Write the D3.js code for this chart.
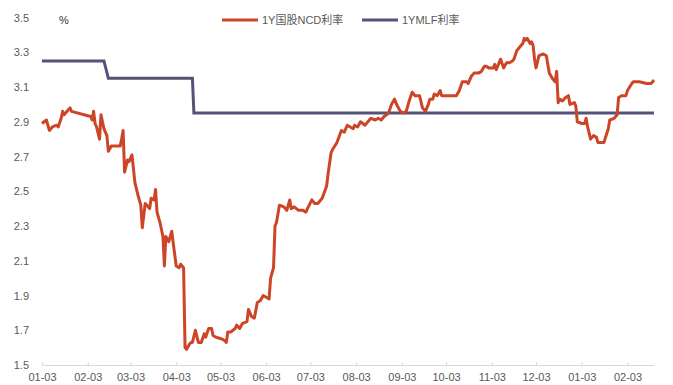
<!DOCTYPE html>
<html>
<head>
<meta charset="utf-8">
<script src="https://cdn.jsdelivr.net/npm/d3@7/dist/d3.min.js"></script>
<style>
  html, body { margin: 0; padding: 0; background: #fff; }
  svg { display: block; }
  text { font-family: "Liberation Sans", Arial, "Noto Sans CJK SC", sans-serif; }
</style>
</head>
<body>
<svg id="chart" width="673" height="385"></svg>
<script>
// 1Y state-owned bank NCD rate (daily)
const ncdDates = [
  "2020-01-03","2020-01-06","2020-01-08","2020-01-10","2020-01-13","2020-01-14","2020-01-16","2020-01-17","2020-01-18","2020-01-20",
  "2020-01-22","2020-01-23","2020-02-05","2020-02-06","2020-02-07","2020-02-08","2020-02-09","2020-02-11","2020-02-12","2020-02-13",
  "2020-02-14","2020-02-16","2020-02-17","2020-02-19","2020-02-22","2020-02-25","2020-02-26","2020-02-27","2020-02-28","2020-03-01",
  "2020-03-02","2020-03-04","2020-03-06","2020-03-08","2020-03-10","2020-03-11","2020-03-13","2020-03-15","2020-03-16","2020-03-17",
  "2020-03-19","2020-03-20","2020-03-21","2020-03-23","2020-03-25","2020-03-26","2020-03-27","2020-03-29","2020-03-31","2020-04-01",
  "2020-04-03","2020-04-05","2020-04-06","2020-04-08","2020-04-09","2020-04-10","2020-04-12","2020-04-13","2020-04-14","2020-04-16",
  "2020-04-18","2020-04-20","2020-04-22","2020-04-23","2020-04-25","2020-04-27","2020-04-28","2020-04-30","2020-05-04","2020-05-06",
  "2020-05-07","2020-05-08","2020-05-10","2020-05-13","2020-05-14","2020-05-16","2020-05-18","2020-05-21","2020-05-22","2020-05-24",
  "2020-05-26","2020-05-28","2020-05-30","2020-06-01","2020-06-03","2020-06-05","2020-06-06","2020-06-07","2020-06-08","2020-06-09",
  "2020-06-10","2020-06-12","2020-06-15","2020-06-17","2020-06-19","2020-06-20","2020-06-22","2020-06-25","2020-06-28","2020-06-30",
  "2020-07-01","2020-07-04","2020-07-06","2020-07-08","2020-07-11","2020-07-14","2020-07-15","2020-07-17","2020-07-18","2020-07-21",
  "2020-07-24","2020-07-26","2020-07-28","2020-07-30","2020-08-01","2020-08-02","2020-08-04","2020-08-06","2020-08-09","2020-08-11",
  "2020-08-13","2020-08-16","2020-08-18","2020-08-20","2020-08-22","2020-08-25","2020-08-27","2020-08-29","2020-08-31","2020-09-02",
  "2020-09-04","2020-09-06","2020-09-08","2020-09-10","2020-09-12","2020-09-15","2020-09-17","2020-09-19","2020-09-21","2020-09-22",
  "2020-09-24","2020-09-25","2020-09-27","2020-09-29","2020-09-30","2020-10-10","2020-10-12","2020-10-14","2020-10-17","2020-10-18",
  "2020-10-20","2020-10-22","2020-10-25","2020-10-27","2020-10-29","2020-10-30","2020-11-01","2020-11-04","2020-11-05","2020-11-06",
  "2020-11-08","2020-11-09","2020-11-11","2020-11-13","2020-11-15","2020-11-17","2020-11-18","2020-11-20","2020-11-22","2020-11-24",
  "2020-11-25","2020-11-26","2020-11-27","2020-11-29","2020-11-30","2020-12-01","2020-12-02","2020-12-03","2020-12-05","2020-12-08",
  "2020-12-10","2020-12-11","2020-12-12","2020-12-14","2020-12-16","2020-12-17","2020-12-18","2020-12-19","2020-12-21","2020-12-23",
  "2020-12-25","2020-12-26","2020-12-29","2020-12-30","2020-12-31","2021-01-03","2021-01-05","2021-01-06","2021-01-07","2021-01-09",
  "2021-01-11","2021-01-13","2021-01-14","2021-01-17","2021-01-18","2021-01-21","2021-01-22","2021-01-25","2021-01-27","2021-01-28",
  "2021-01-30","2021-02-02","2021-02-03","2021-02-06","2021-02-07","2021-02-11","2021-02-16","2021-02-19","2021-02-21"
];
const ncdValues = [
  2.89,2.91,2.85,2.87,2.88,2.87,2.92,2.96,2.94,2.96,
  2.98,2.96,2.93,2.91,2.96,2.89,2.87,2.80,2.94,2.90,
  2.86,2.82,2.73,2.76,2.76,2.76,2.80,2.85,2.61,2.68,
  2.67,2.71,2.55,2.48,2.42,2.29,2.43,2.41,2.40,2.46,
  2.45,2.51,2.38,2.32,2.24,2.07,2.24,2.21,2.27,2.20,
  2.07,2.06,2.08,2.06,1.60,1.59,1.62,1.63,1.63,1.70,
  1.63,1.63,1.68,1.66,1.71,1.71,1.67,1.66,1.65,1.64,
  1.63,1.69,1.69,1.71,1.73,1.71,1.74,1.75,1.82,1.78,
  1.77,1.86,1.87,1.90,1.89,1.88,2.00,2.03,2.06,2.30,
  2.32,2.42,2.41,2.39,2.45,2.40,2.41,2.39,2.39,2.38,
  2.40,2.45,2.43,2.43,2.46,2.53,2.60,2.72,2.74,2.78,
  2.85,2.84,2.88,2.87,2.86,2.88,2.87,2.90,2.88,2.90,
  2.92,2.91,2.92,2.91,2.93,2.95,3.00,3.03,2.99,2.96,
  2.95,2.96,3.02,3.07,3.05,3.05,2.98,2.96,3.00,3.03,
  3.03,3.06,3.05,3.08,3.05,3.05,3.08,3.13,3.13,3.12,
  3.16,3.18,3.18,3.19,3.22,3.22,3.21,3.21,3.23,3.20,
  3.24,3.26,3.21,3.24,3.24,3.25,3.26,3.31,3.33,3.35,
  3.38,3.37,3.38,3.35,3.36,3.34,3.26,3.21,3.28,3.29,
  3.28,3.23,3.18,3.15,3.13,3.19,3.01,3.03,3.02,3.04,
  3.05,3.00,3.01,2.99,2.90,2.89,2.89,2.92,2.87,2.80,
  2.82,2.81,2.78,2.78,2.78,2.86,2.91,2.92,2.94,3.04,
  3.05,3.05,3.08,3.12,3.13,3.13,3.12,3.12,3.14
];

// 1Y MLF rate (step changes)
const mlfDates  = ["2020-01-03","2020-02-14","2020-02-17","2020-04-14","2020-04-15","2021-02-21"];
const mlfValues = [3.25, 3.25, 3.15, 3.15, 2.95, 2.95];

// Axis ticks
const xTickDates = [
  "2020-01-03","2020-02-03","2020-03-03","2020-04-03","2020-05-03","2020-06-03","2020-07-03",
  "2020-08-03","2020-09-03","2020-10-03","2020-11-03","2020-12-03","2021-01-03","2021-02-03"
];
const yTicks = [1.5, 1.7, 1.9, 2.1, 2.3, 2.5, 2.7, 2.9, 3.1, 3.3, 3.5];

const seriesNames = ["1Y国股NCD利率", "1YMLF利率"];
const seriesColors = ["#CD4527", "#55527A"];

const parse = d3.utcParse("%Y-%m-%d");
const svg = d3.select("#chart");

const x = d3.scaleUtc()
  .domain([parse("2020-01-03"), parse("2021-02-21")])
  .range([42, 654]);
const y = d3.scaleLinear()
  .domain([1.5, 3.5])
  .range([365, 17.5]);

const textColor = "#595959";
const axisColor = "#d9d9d9";

// X axis
const xAxis = d3.axisBottom(x)
  .tickValues(xTickDates.map(parse))
  .tickFormat(d3.utcFormat("%m-%d"))
  .tickSizeInner(-3)
  .tickSizeOuter(0)
  .tickPadding(8);
const gx = svg.append("g")
  .attr("transform", "translate(0,365)")
  .call(xAxis);
gx.select(".domain").attr("stroke", axisColor).attr("stroke-width", 1);
gx.selectAll(".tick line").attr("stroke", axisColor);
gx.selectAll(".tick text")
  .attr("fill", textColor)
  .attr("font-size", 11)
  .attr("dy", "0.71em");

// Y axis labels only
const gy = svg.append("g")
  .attr("transform", "translate(29,0)")
  .call(d3.axisLeft(y).tickValues(yTicks).tickFormat(d3.format(".1f")).tickSize(0).tickPadding(0));
gy.select(".domain").remove();
gy.selectAll(".tick text")
  .attr("fill", textColor)
  .attr("font-size", 11);

// Unit
svg.append("text")
  .attr("x", 59).attr("y", 24)
  .attr("fill", "#333")
  .attr("font-size", 11)
  .text("%");

const line = d3.line()
  .x(d => x(d[0]))
  .y(d => y(d[1]));

const mlfData = mlfDates.map((d, i) => [parse(d), mlfValues[i]]);
const ncdData = ncdDates.map((d, i) => [parse(d), ncdValues[i]]);

svg.append("path")
  .datum(mlfData)
  .attr("fill", "none")
  .attr("stroke", seriesColors[1])
  .attr("stroke-width", 3)
  .attr("d", line);

svg.append("path")
  .datum(ncdData)
  .attr("fill", "none")
  .attr("stroke", seriesColors[0])
  .attr("stroke-width", 3)
  .attr("stroke-linejoin", "round")
  .attr("d", line);

// Legend
const legendX = [222, 362];
seriesNames.forEach((name, i) => {
  const g = svg.append("g").attr("transform", `translate(${legendX[i]},20)`);
  g.append("line")
    .attr("x1", 0).attr("x2", 36)
    .attr("y1", 0).attr("y2", 0)
    .attr("stroke", seriesColors[i])
    .attr("stroke-width", 3);
  g.append("text")
    .attr("x", 40).attr("y", 4)
    .attr("fill", textColor)
    .attr("font-size", 11)
    .text(name);
});
</script>
</body>
</html>
